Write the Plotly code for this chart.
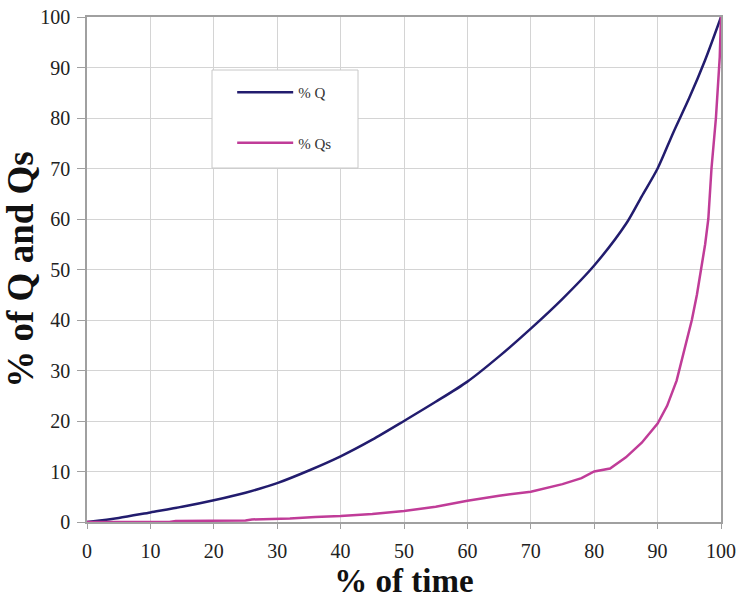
import plotly.graph_objects as go

# % of time (x) and cumulative % of Q
time_q = [0, 5, 10, 15, 20, 25, 30, 35, 40, 45, 50, 55, 60, 65, 70, 75, 80, 85,
          87.5, 90, 92.5, 95, 97.5, 100]
pct_q = [0, 0.8, 1.9, 3.0, 4.3, 5.8, 7.7, 10.2, 13.0, 16.3, 20.0, 23.8, 27.8,
         32.8, 38.3, 44.2, 50.8, 59.0, 64.5, 70.0, 77.2, 84.0, 91.5, 100]

# % of time (x) and cumulative % of Qs
time_qs = [0, 13, 14, 25, 26, 32, 36, 40, 45, 50, 55, 60, 65, 70, 75, 78, 80,
           82.5, 85, 87.5, 90, 91.5, 93, 94, 95.4, 96.2, 96.9, 97.5, 98, 98.5,
           99.2, 99.5, 99.8, 100]
pct_qs = [0, 0, 0.2, 0.3, 0.5, 0.7, 1.0, 1.2, 1.6, 2.2, 3.0, 4.2, 5.2, 6.0, 7.5,
          8.7, 10.0, 10.6, 12.8, 15.7, 19.5, 23.0, 28.0, 33.0, 40.0, 45.0, 50.0,
          55.0, 60.0, 70.0, 80.0, 86.0, 92.0, 100]

x_ticks = [0, 10, 20, 30, 40, 50, 60, 70, 80, 90, 100]
y_ticks = [0, 10, 20, 30, 40, 50, 60, 70, 80, 90, 100]

fig = go.Figure()
fig.add_trace(go.Scatter(x=time_q, y=pct_q, mode="lines", name="% Q",
                         line=dict(color="#221c6e", width=2.5, shape="spline",
                                   smoothing=0.8),
                         legendgroup="a"))
fig.add_trace(go.Scatter(x=time_qs, y=pct_qs, mode="lines", name="% Qs",
                         line=dict(color="#c03c98", width=2.5),
                         legendgroup="b"))

serif = "Liberation Serif, Times New Roman, serif"

fig.update_layout(
    width=739, height=599,
    margin=dict(l=87, r=18, t=17, b=77),
    paper_bgcolor="white", plot_bgcolor="white",
    font=dict(family=serif, color="#222"),
    showlegend=True,
    legend=dict(x=0.229, y=0.883, xanchor="left", yanchor="top",
                bgcolor="rgba(0,0,0,0)", borderwidth=0,
                font=dict(family=serif, size=15, color="#333"),
                itemwidth=56, tracegroupgap=28),
    shapes=[dict(type="rect", xref="paper", yref="paper",
                 x0=(212 - 87) / 634, x1=(358 - 87) / 634,
                 y0=(522 - 168) / 505, y1=(522 - 70) / 505,
                 fillcolor="white", line=dict(color="#c8c8c8", width=1),
                 layer="above")],
    xaxis=dict(range=[0, 100], tickvals=x_ticks, ticktext=[str(v) for v in x_ticks],
               showgrid=True, gridcolor="#d4d4d4", gridwidth=1,
               showline=True, linecolor="#a0a0a0", linewidth=1.5, mirror=True,
               ticks="outside", ticklen=5, tickcolor="#a0a0a0",
               ticklabelstandoff=5, automargin=False, ticklabeloverflow="allow",
               tickfont=dict(family=serif, size=20, color="#222"),
               zeroline=False,
               title=dict(text="<b>% of time</b>",
                          font=dict(family=serif, size=33, color="#111"),
                          standoff=12)),
    yaxis=dict(range=[0, 100], tickvals=y_ticks, ticktext=[str(v) for v in y_ticks],
               showgrid=True, gridcolor="#d4d4d4", gridwidth=1,
               showline=True, linecolor="#a0a0a0", linewidth=1.5, mirror=True,
               ticks="outside", ticklen=8, tickcolor="#a0a0a0",
               ticklabelstandoff=3, automargin=False, ticklabeloverflow="allow",
               tickfont=dict(family=serif, size=20, color="#222"),
               zeroline=False,
               title=dict(text="<b>% of Q and Qs</b>",
                          font=dict(family=serif, size=37, color="#111"),
                          standoff=10)),
)

fig.write_html("out.html",
               config={"displayModeBar": False},
               post_script="document.body.style.margin='0';"
                           "document.body.style.overflow='hidden';")
